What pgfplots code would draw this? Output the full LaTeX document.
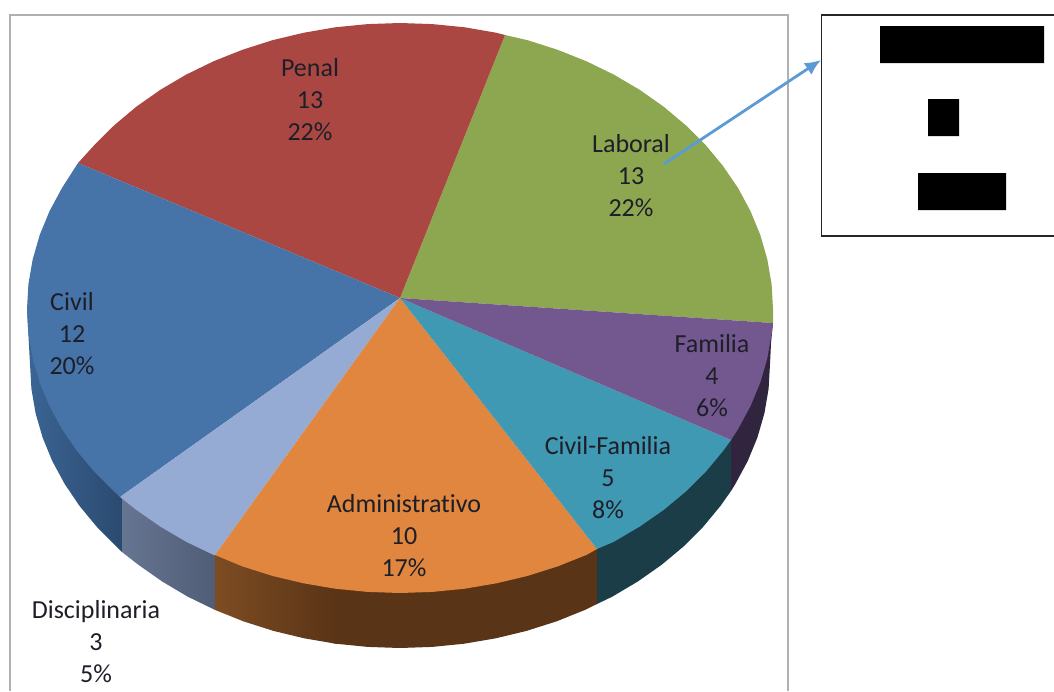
\documentclass[border=0pt]{standalone}
\usepackage{pgfplots}
\pgfplotsset{compat=1.18}
\usepackage{fontspec}
\setmainfont[Ligatures=NoCommon]{Carlito}
\usetikzlibrary{arrows.meta}
\definecolor{cPenal}{HTML}{AB4742}
\definecolor{cLaboral}{HTML}{8CA750}
\definecolor{cCivil}{HTML}{4674A8}
\definecolor{cDisc}{HTML}{96ABD4}
\definecolor{cAdmin}{HTML}{E0863E}
\definecolor{cCF}{HTML}{4099B2}
\definecolor{cFam}{HTML}{73588F}
\definecolor{cTxt}{HTML}{1E1E28}
\definecolor{cFrame}{HTML}{B0B0B0}
\definecolor{cArrow}{HTML}{5B9BD5}
\definecolor{sCivA}{HTML}{3B6594}
\definecolor{sCivB}{HTML}{2B4A70}
\definecolor{sDisA}{HTML}{667592}
\definecolor{sDisB}{HTML}{505D76}
\definecolor{sAdmA}{HTML}{7D4C23}
\definecolor{sAdmB}{HTML}{5A3416}
\definecolor{sCF}{HTML}{1B3D47}
\definecolor{sFam}{HTML}{30243F}
\newcommand{\lab}[4]{\node[align=center,text=cTxt,font=\fontsize{26}{32}\selectfont,inner sep=0pt] at (axis cs:#1,#2) {#3\\#4};}
\begin{document}
\begin{tikzpicture}
\begin{axis}[
  scale only axis, width=1054pt, height=691pt,
  xmin=0, xmax=1054, ymin=0, ymax=691, y dir=reverse,
  hide axis, clip=true]
% full extent of the picture
\addplot[draw=none] coordinates {(0,0)(1054,691)};
% frame and text box
\addplot[color=cFrame,line width=2pt] coordinates {(10,691)(10,15)(788,15)(788,691)};
\addplot[color=black!85,line width=1.3pt] coordinates {(1054,15)(821.5,15)(821.5,236)(1054,236)};
% censored blocks
\addplot[fill=black,draw=none] coordinates {(880,26)(1044,26)(1044,63)(880,63)(880,26)};
\addplot[fill=black,draw=none] coordinates {(928,99)(959,99)(959,136)(928,136)(928,99)};
\addplot[fill=black,draw=none] coordinates {(918,173)(1006,173)(1006,210)(918,210)(918,173)};
% sides
\addplot[draw=none,left color=sCivA,right color=sCivB] coordinates {(27,309)(30,364)(31.4,388.8)(35.6,413.3)(42.6,437.5)(52.3,461.1)(64.7,484)(79.6,506)(96.9,526.9)(116.6,546.6)(122,552)(122,497)(27,309)};
\addplot[draw=none,left color=sDisA,right color=sDisB] coordinates {(122,552)(138.4,564.8)(162.2,581.5)(187.8,596.7)(215,609.9)(215,555)(122,497)(122,552)};
\addplot[draw=none,fill=sAdmB] coordinates {(330,642.5)(335.8,643.7)(367.7,646.9)(400,648)(432.3,646.9)(464.2,643.7)(495.8,638.3)(526.5,630.9)(556.4,621.4)(585,609.9)(597,604)(597,549)(330,570)(330,642.5)};
\addplot[draw=none,left color=sAdmA,right color=sAdmB] coordinates {(215,609.9)(243.6,621.4)(273.5,630.9)(304.2,638.3)(335.8,643.7)(335.8,570)(215,555)(215,609.9)};
\addplot[draw=none,fill=sCF] coordinates {(597,604)(612.2,596.7)(637.8,581.5)(661.6,564.8)(683.4,546.6)(703.1,526.9)(720.4,506)(731,491)(731,440)(597,549)(597,604)};
\addplot[draw=none,fill=sFam] coordinates {(731,491)(735.3,484)(747.7,461.1)(757.4,437.5)(764.4,413.3)(768.6,388.8)(770,364)(771,343)(773,323)(731,440)(731,491)};
% top faces
\addplot[draw=none,fill=cLaboral] coordinates {(400,298)(773,323)(773,309)(771.6,284.1)(767.3,259.4)(760.3,235)(750.5,211.2)(738.1,188.1)(723,166)(705.6,145)(685.7,125.2)(663.8,106.8)(639.8,89.9)(614,74.7)(586.5,61.3)(557.6,49.8)(527.6,40.2)(505,35)(400,298)};
\addplot[draw=none,fill=cPenal] coordinates {(400,298)(505,35)(496.5,32.8)(464.8,27.3)(432.5,24.1)(400,23)(367.5,24.1)(335.2,27.3)(303.5,32.8)(272.4,40.2)(242.4,49.8)(213.5,61.3)(186,74.7)(160.2,89.9)(136.2,106.8)(114.3,125.2)(94.4,145)(78,163)(400,298)};
\addplot[draw=none,fill=cCivil] coordinates {(400,298)(78,163)(61.9,188.1)(49.5,211.2)(39.7,235)(32.7,259.4)(28.4,284.1)(27,309)(28.4,333.8)(32.7,358.3)(39.7,382.5)(49.5,406.1)(61.9,429)(77,451)(94.4,471.9)(114.3,491.6)(120,497)(400,298)};
\addplot[draw=none,fill=cDisc] coordinates {(400,298)(120,497)(136.2,509.8)(160.2,526.5)(186,541.7)(213.5,554.9)(215,555)(400,298)};
\addplot[draw=none,fill=cAdmin] coordinates {(400,298)(215,555)(242.4,566.4)(272.4,575.9)(303.5,583.3)(335.2,588.7)(367.5,591.9)(400,593)(432.5,591.9)(464.8,588.7)(496.5,583.3)(527.6,575.9)(557.6,566.4)(586.5,554.9)(597,549)(400,298)};
\addplot[draw=none,fill=cCF] coordinates {(400,298)(597,549)(614,541.7)(639.8,526.5)(663.8,509.8)(685.7,491.6)(705.6,471.9)(723,451)(731,440)(400,298)};
\addplot[draw=none,fill=cFam] coordinates {(400,298)(731,440)(738.1,429)(750.5,406.1)(760.3,382.5)(767.3,358.3)(771.6,333.8)(773,323)(400,298)};
% labels
\lab{310}{100}{Penal\\13}{22\%}
\lab{631}{176}{Laboral\\13}{22\%}
\lab{72}{334}{Civil\\12}{20\%}
\lab{96}{642}{Disciplinaria\\3}{5\%}
\lab{404}{536}{Administrativo\\10}{17\%}
\lab{608}{478}{Civil-Familia\\5}{8\%}
\lab{712}{376}{Familia\\4}{6\%}
% arrow
\addplot[color=cArrow,line width=2.8pt,-{Latex[length=16pt,width=14pt]}] coordinates {(664,164)(821,60)};
\end{axis}
\end{tikzpicture}
\end{document}
